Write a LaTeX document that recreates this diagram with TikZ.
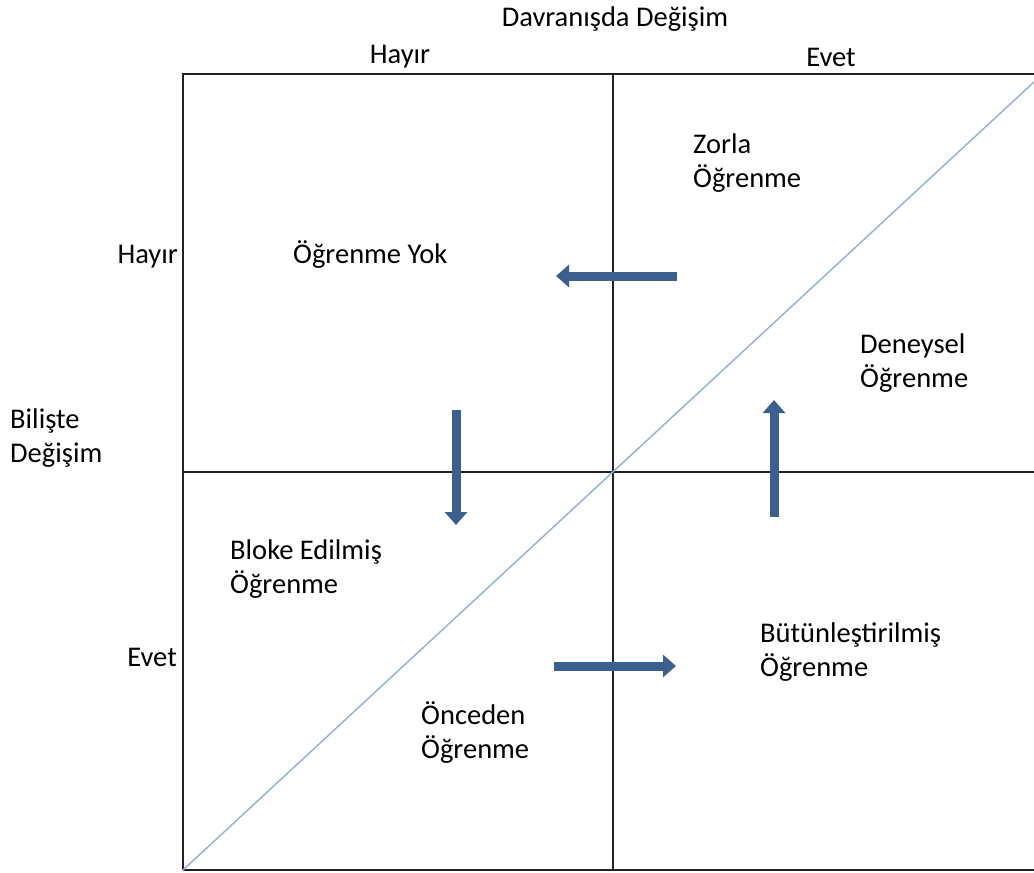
\documentclass[tikz,border=0pt]{standalone}
\usepackage{fontspec}
\setmainfont{Carlito}
\usetikzlibrary{arrows.meta}
\definecolor{arrowblue}{HTML}{3B5F8E}
\definecolor{diagblue}{HTML}{95B3D7}
\definecolor{gridline}{HTML}{222222}
\tikzset{
  lbl/.style={inner sep=0pt, font=\fontsize{28.5}{34}\selectfont, align=left},
  bigarrow/.style={draw=arrowblue, line width=9pt, -{Triangle[width=22pt,length=13pt]}},
  frame/.style={draw=gridline, line width=2pt},
}
\begin{document}
\begin{tikzpicture}[x=1pt,y=-1pt]
\useasboundingbox (0,0) rectangle (1034,873);
% frame and quadrant lines
\draw[frame] (183,870) -- (183,74) -- (1034,74);
\draw[frame] (183,870) -- (1034,870);
\draw[frame] (613,74) -- (613,870);
\draw[frame] (183,472) -- (1034,472);
\draw[diagblue, line width=1.5pt] (183,870) -- (1034,82);
% headers
\node[lbl] (top) at (615,19) {Davranışda Değişim};
\node[lbl] (hayirT) at (400,57) {Hayır};
\node[lbl] (evetT) at (831,57) {Evet};
\node[lbl, anchor=east] (hayirL) at (178,257) {Hayır};
\node[lbl, anchor=east] (evetL) at (177,657) {Evet};
\node[lbl, anchor=west] (bil) at (10,438) {Bilişte\\Değişim};
% quadrant labels
\node[lbl, anchor=west] (yok) at (293,255) {Öğrenme Yok};
\node[lbl, anchor=west] (zorla) at (693,163) {Zorla\\Öğrenme};
\node[lbl, anchor=west] (deney) at (860,363) {Deneysel\\Öğrenme};
\node[lbl, anchor=west] (bloke) at (230,569) {Bloke Edilmiş\\Öğrenme};
\node[lbl, anchor=west] (butun) at (760,652) {Bütünleştirilmiş\\Öğrenme};
\node[lbl, anchor=west] (once) at (421,733) {Önceden\\Öğrenme};
% arrows
\coordinate (a1s) at (677,276); \coordinate (a1e) at (556,276);
\coordinate (a2s) at (456,410); \coordinate (a2e) at (456,525);
\coordinate (a3s) at (774,517); \coordinate (a3e) at (774,400);
\coordinate (a4s) at (554,666); \coordinate (a4e) at (676,666);
\draw[bigarrow] (a1s) -- (a1e);
\draw[bigarrow] (a2s) -- (a2e);
\draw[bigarrow] (a3s) -- (a3e);
\draw[bigarrow] (a4s) -- (a4e);
\end{tikzpicture}
\end{document}
